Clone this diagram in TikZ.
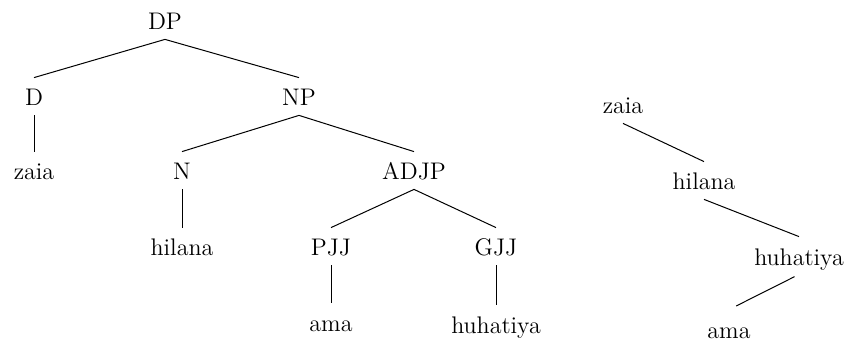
\documentclass[tikz,border=0pt]{standalone}
\begin{document}
\begin{tikzpicture}[x=0.5pt,y=-0.5pt,
  tn/.style={anchor=base,inner sep=0pt,text height=14pt,text depth=4.5pt,
    font=\fontsize{12}{14}\selectfont},
  edge/.style={line width=0.5pt}]
\useasboundingbox (0,0) rectangle (849,341);
% constituency tree
\node[tn] (DP)   at (165,30)  {DP};
\node[tn] (D)    at (34,106)  {D};
\node[tn] (NP)   at (299,106) {NP};
\node[tn] (zaiaL) at (34,180) {zaia};
\node[tn] (N)    at (182,180) {N};
\node[tn] (ADJP) at (414,180) {ADJP};
\node[tn] (hilL) at (182,256) {hilana};
\node[tn] (PJJ)  at (331,256) {PJJ};
\node[tn] (GJJ)  at (496,256) {GJJ};
\node[tn] (amaL) at (331,331) {ama};
\node[tn] (huhL) at (496,333) {huhatiya};
\draw[edge] (DP.south) -- (D.north);
\draw[edge] (DP.south) -- (NP.north);
\draw[edge] (D.south) -- (zaiaL.north);
\draw[edge] (NP.south) -- (N.north);
\draw[edge] (NP.south) -- (ADJP.north);
\draw[edge] (N.south) -- (hilL.north);
\draw[edge] (ADJP.south) -- (PJJ.north);
\draw[edge] (ADJP.south) -- (GJJ.north);
\draw[edge] (PJJ.south) -- (amaL.north);
\draw[edge] (GJJ.south) -- (huhL.north);
% dependency tree
\node[tn] (zaiaR) at (623,114) {zaia};
\node[tn] (hilR)  at (704,190) {hilana};
\node[tn] (huhR)  at (799,265) {huhatiya};
\node[tn] (amaR)  at (729,338) {ama};
\draw[edge] (zaiaR.south) -- (hilR.north);
\draw[edge] (hilR.south) -- (huhR.north);
\draw[edge,shorten <=2.5pt,shorten >=4pt] (huhR.south) -- (amaR.north);
\end{tikzpicture}
\end{document}
